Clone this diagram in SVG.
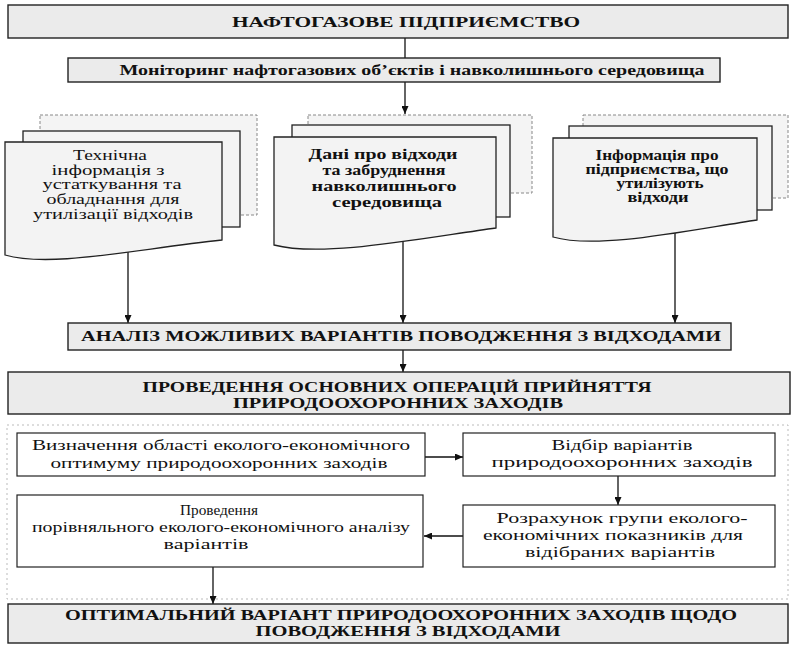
<svg xmlns="http://www.w3.org/2000/svg" width="791" height="646" viewBox="0 0 791 646">
<defs>
<marker id="ah" markerUnits="userSpaceOnUse" markerWidth="8" markerHeight="7" refX="8" refY="3.5" orient="auto">
<path d="M0,0 L8,3.5 L0,7 Z" fill="#111"/>
</marker>
<style>
.capbox{fill:#ebebeb;stroke:#222;stroke-width:1.4}
.subbox{fill:#fff;stroke:#222;stroke-width:1.2}
.back{fill:#f4f4f4;stroke:#888;stroke-width:1;stroke-dasharray:3 2}
.mid{fill:#f4f4f4;stroke:#222;stroke-width:1.3}
.front{fill:#f3f3f3;stroke:#222;stroke-width:1.3}
.frame{fill:none;stroke:#bbb;stroke-width:1;stroke-dasharray:2 3}
.cap{font-family:"Liberation Serif","Times New Roman",serif;font-weight:bold;font-size:14px;text-anchor:middle;fill:#111}
.doc{font-family:"Liberation Serif","Times New Roman",serif;font-size:14px;text-anchor:middle;fill:#111}
.sub{font-family:"Liberation Serif","Times New Roman",serif;font-size:14px;text-anchor:middle;fill:#111}
.conn{stroke:#111;stroke-width:1.3;fill:none}
</style>
</defs>
<rect class="frame" x="7" y="425" width="781" height="174"/>
<g id="connectors">
<line class="conn" x1="405" y1="38" x2="405" y2="58"/>
<line class="conn" x1="405" y1="82" x2="405" y2="114" marker-end="url(#ah)"/>
<line class="conn" x1="128" y1="240" x2="128" y2="323" marker-end="url(#ah)"/>
<line class="conn" x1="403" y1="230" x2="403" y2="323" marker-end="url(#ah)"/>
<line class="conn" x1="675" y1="222" x2="675" y2="323" marker-end="url(#ah)"/>
<line class="conn" x1="403" y1="350" x2="403" y2="372" marker-end="url(#ah)"/>
<line class="conn" x1="425" y1="457" x2="463" y2="457" marker-end="url(#ah)"/>
<line class="conn" x1="618" y1="476" x2="618" y2="505" marker-end="url(#ah)"/>
<line class="conn" x1="463" y1="536" x2="424" y2="536" marker-end="url(#ah)"/>
<line class="conn" x1="213" y1="567" x2="213" y2="604" marker-end="url(#ah)"/>
</g>
<g id="node-enterprise">
<rect class="capbox" x="8" y="5" width="780" height="33"/>
<text class="cap" x="406" y="27" font-size="16" textLength="348" lengthAdjust="spacingAndGlyphs">НАФТОГАЗОВЕ ПІДПРИЄМСТВО</text>
</g>
<g id="node-monitoring">
<rect class="capbox" x="68" y="58" width="652" height="24"/>
<text class="cap" x="412" y="75" font-size="12" textLength="585" lengthAdjust="spacingAndGlyphs">Моніторинг нафтогазових об’єктів і навколишнього середовища</text>
</g>
<g id="node-doc-tech">
<rect class="back" x="40" y="115" width="217" height="100"/>
<rect class="mid" x="23" y="131" width="217" height="96"/>
<path class="front" d="M5,142 H222 V240 C130,250 50,268 5,255 Z"/>
<text class="doc" x="110" y="160" textLength="74" lengthAdjust="spacingAndGlyphs">Технічна</text>
<text class="doc" x="108" y="175" textLength="113" lengthAdjust="spacingAndGlyphs">інформація з</text>
<text class="doc" x="112" y="189" textLength="139" lengthAdjust="spacingAndGlyphs">устаткування та</text>
<text class="doc" x="113" y="204" textLength="133" lengthAdjust="spacingAndGlyphs">обладнання для</text>
<text class="doc" x="113" y="219" textLength="160" lengthAdjust="spacingAndGlyphs">утилізації відходів</text>
</g>
<g id="node-doc-waste">
<rect class="back" x="308" y="115" width="224" height="78"/>
<rect class="mid" x="292" y="125" width="218" height="92"/>
<path class="front" d="M274,137 H496 V228 C423,238 323,258 274,245 Z"/>
<text class="doc" x="383" y="159" font-weight="bold" textLength="149" lengthAdjust="spacingAndGlyphs">Дані про відходи</text>
<text class="doc" x="384" y="175" font-weight="bold" textLength="123" lengthAdjust="spacingAndGlyphs">та забруднення</text>
<text class="doc" x="384" y="191" font-weight="bold" textLength="145" lengthAdjust="spacingAndGlyphs">навколишнього</text>
<text class="doc" x="387" y="207" font-weight="bold" textLength="110" lengthAdjust="spacingAndGlyphs">середовища</text>
</g>
<g id="node-doc-enterprises">
<rect class="back" x="583" y="115" width="205" height="83"/>
<rect class="mid" x="569" y="126" width="203" height="84"/>
<path class="front" d="M553,138 H757 V220 C690,230 598,250 553,237 Z"/>
<text class="doc" x="657" y="160" font-size="13.5" font-weight="bold" textLength="123" lengthAdjust="spacingAndGlyphs">Інформація про</text>
<text class="doc" x="657" y="174" font-size="13.5" font-weight="bold" textLength="143" lengthAdjust="spacingAndGlyphs">підприємства, що</text>
<text class="doc" x="660" y="188" font-size="13.5" font-weight="bold" textLength="87" lengthAdjust="spacingAndGlyphs">утилізують</text>
<text class="doc" x="658" y="202" font-size="13.5" font-weight="bold" textLength="61" lengthAdjust="spacingAndGlyphs">відходи</text>
</g>
<g id="node-analysis">
<rect class="capbox" x="68" y="323" width="663" height="27"/>
<text class="cap" x="401" y="341" textLength="640" lengthAdjust="spacingAndGlyphs">АНАЛІЗ МОЖЛИВИХ ВАРІАНТІВ ПОВОДЖЕННЯ З ВІДХОДАМИ</text>
</g>
<g id="node-operations">
<rect class="capbox" x="8" y="372" width="782" height="42"/>
<text class="cap" x="397" y="392" textLength="509" lengthAdjust="spacingAndGlyphs">ПРОВЕДЕННЯ ОСНОВНИХ ОПЕРАЦІЙ ПРИЙНЯТТЯ</text>
<text class="cap" x="398" y="408" textLength="330" lengthAdjust="spacingAndGlyphs">ПРИРОДООХОРОННИХ ЗАХОДІВ</text>
</g>
<g id="node-optimum-area">
<rect class="subbox" x="17" y="433" width="408" height="43"/>
<text class="sub" x="221" y="450" textLength="378" lengthAdjust="spacingAndGlyphs">Визначення області еколого-економічного</text>
<text class="sub" x="219" y="468" textLength="337" lengthAdjust="spacingAndGlyphs">оптимуму природоохоронних заходів</text>
</g>
<g id="node-selection">
<rect class="subbox" x="463" y="433" width="312" height="43"/>
<text class="sub" x="622" y="450" textLength="141" lengthAdjust="spacingAndGlyphs">Відбір варіантів</text>
<text class="sub" x="622" y="467" textLength="261" lengthAdjust="spacingAndGlyphs">природоохоронних заходів</text>
</g>
<g id="node-comparison">
<rect class="subbox" x="17" y="495" width="406" height="72"/>
<text class="sub" x="219" y="515" textLength="78" lengthAdjust="spacingAndGlyphs">Проведення</text>
<text class="sub" x="221" y="532" textLength="378" lengthAdjust="spacingAndGlyphs">порівняльного еколого-економічного аналізу</text>
<text class="sub" x="206" y="549" textLength="85" lengthAdjust="spacingAndGlyphs">варіантів</text>
</g>
<g id="node-calculation">
<rect class="subbox" x="463" y="505" width="312" height="62"/>
<text class="sub" x="622" y="523" textLength="251" lengthAdjust="spacingAndGlyphs">Розрахунок групи еколого-</text>
<text class="sub" x="613" y="540" textLength="260" lengthAdjust="spacingAndGlyphs">економічних показників для</text>
<text class="sub" x="620" y="557" textLength="190" lengthAdjust="spacingAndGlyphs">відібраних варіантів</text>
</g>
<g id="node-optimal">
<rect class="capbox" x="8" y="604" width="780" height="39"/>
<text class="cap" x="401" y="620" textLength="672" lengthAdjust="spacingAndGlyphs">ОПТИМАЛЬНИЙ ВАРІАНТ ПРИРОДООХОРОННИХ ЗАХОДІВ ЩОДО</text>
<text class="cap" x="408" y="636" textLength="305" lengthAdjust="spacingAndGlyphs">ПОВОДЖЕННЯ З ВІДХОДАМИ</text>
</g>
</svg>
